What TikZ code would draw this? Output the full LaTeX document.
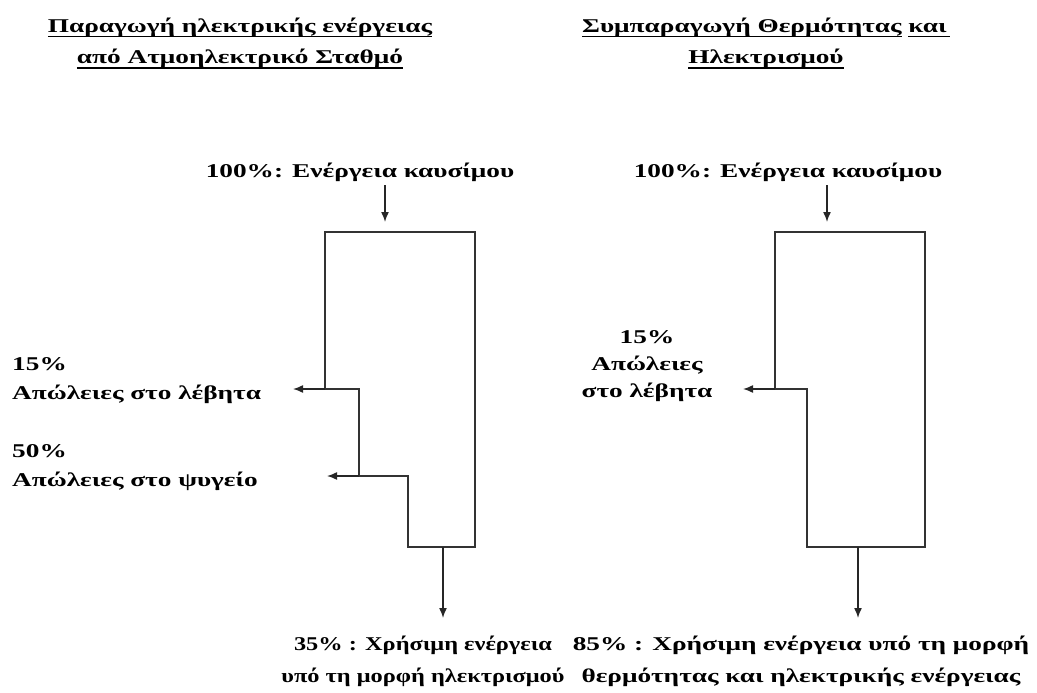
\documentclass[tikz,border=0pt]{standalone}
\usepackage{fontspec}
\setmainfont{Liberation Serif}
\newfontfamily\widefont[FakeStretch=1.4]{Liberation Serif}
\newfontfamily\narrowfont[FakeStretch=1.25]{Liberation Serif}
\usetikzlibrary{arrows.meta}

\newcommand{\thickul}[1]{\setbox0\hbox{#1}\rlap{\rule[-5pt]{\wd0}{1.5pt}}\box0\relax}

\tikzset{
  lbl/.style={font=\widefont\bfseries\fontsize{19.5}{29}\selectfont, inner sep=0pt, align=center},
  ttl/.style={font=\widefont\bfseries\fontsize{19.5}{32}\selectfont, inner sep=0pt, align=center},
  flow/.style={line width=1.5pt, draw=black!80},
  flowarrow/.style={line width=1.5pt, draw=black!85, -{Latex[length=10pt,width=8pt]}}
}

\begin{document}
\begin{tikzpicture}[x=1pt,y=-1pt]
\useasboundingbox (0,0) rectangle (1037,693);

% titles
\node[ttl, anchor=base] (title1) at (240,64) {\thickul{Παραγωγή ηλεκτρικής ενέργειας}\\\thickul{από Ατμοηλεκτρικό Σταθμό}};
\node[ttl, anchor=base] (title2) at (766,64) {\thickul{Συμπαραγωγή Θερμότητας} \thickul{και\,}\\\thickul{Ηλεκτρισμού}};

% left: steam power plant
\node[lbl, anchor=base] (fuel1) at (360,177) {100\%: Ενέργεια καυσίμου};
\coordinate (in1) at (385,185);
\coordinate (a1) at (325,232);
\coordinate (b1) at (475,232);
\coordinate (c1) at (475,547);
\coordinate (d1) at (408,547);
\coordinate (e1) at (408,476);
\coordinate (f1) at (359,476);
\coordinate (g1) at (359,389);
\coordinate (h1) at (325,389);
\draw[flow] (a1) -- (b1) -- (c1) -- (d1) -- (e1) -- (f1) -- (g1) -- (h1) -- cycle;
\draw[flowarrow] (in1) -- (385,222);
\node[lbl, anchor=base west, align=left] (loss1) at (12,399) {15\%\\Απώλειες στο λέβητα};
\node[lbl, anchor=base west, align=left] (loss2) at (12,486) {50\%\\Απώλειες στο ψυγείο};
\draw[flowarrow] (h1) -- (293,389);
\draw[flowarrow] (f1) -- (327,476);
\coordinate (o1) at (443,547);
\node[lbl, anchor=base, font=\narrowfont\bfseries\fontsize{19.5}{32}\selectfont] (use1) at (423,682) {35\% : Χρήσιμη ενέργεια\\υπό τη μορφή ηλεκτρισμού};
\draw[flowarrow] (o1) -- (443,618);

% right: cogeneration
\node[lbl, anchor=base] (fuel2) at (788,177) {100\%: Ενέργεια καυσίμου};
\coordinate (in2) at (827,185);
\coordinate (a2) at (775,232);
\coordinate (b2) at (925,232);
\coordinate (c2) at (925,547);
\coordinate (d2) at (807,547);
\coordinate (e2) at (807,389);
\coordinate (f2) at (775,389);
\draw[flow] (a2) -- (b2) -- (c2) -- (d2) -- (e2) -- (f2) -- cycle;
\draw[flowarrow] (in2) -- (827,222);
\node[lbl, anchor=base, font=\widefont\bfseries\fontsize{19.5}{27}\selectfont] (loss3) at (647,397) {15\%\\Απώλειες\\στο λέβητα};
\draw[flowarrow] (f2) -- (743,389);
\coordinate (o2) at (858,547);
\node[lbl, anchor=base, font=\widefont\bfseries\fontsize{19.5}{32}\selectfont] (use2) at (801,682) {85\% : Χρήσιμη ενέργεια υπό τη μορφή\\θερμότητας και ηλεκτρικής ενέργειας};
\draw[flowarrow] (o2) -- (858,618);
\end{tikzpicture}
\end{document}
